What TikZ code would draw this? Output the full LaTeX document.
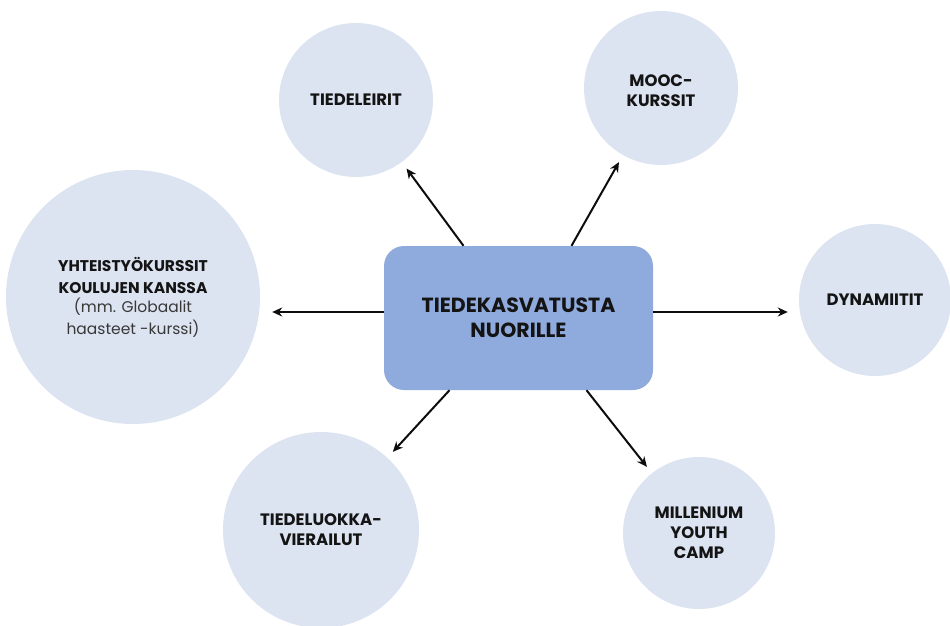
\documentclass[tikz,border=0pt]{standalone}
\usepackage{fontspec}
\setmainfont{Poppins}[BoldFont={* Bold}]
\usetikzlibrary{arrows.meta}
\definecolor{bubble}{HTML}{DCE3F1}
\definecolor{hub}{HTML}{8FAADC}
\begin{document}
\begin{tikzpicture}[x=1pt,y=-1pt,
  bubbletext/.style={font=\fontsize{16.5}{20}\selectfont\bfseries, align=center, text=black!92},
  headtext/.style={font=\fontsize{15.5}{22}\selectfont\bfseries, align=center, text=black!92},
  lighttext/.style={font=\fontsize{15.5}{22}\selectfont, align=center, text=black!78},
  bubble/.style={circle, fill=bubble, inner sep=0pt, minimum size=#1},
  link/.style={draw=black!95, line width=2pt, -{Stealth[length=10pt,width=9pt]}}]
\useasboundingbox (0,0) rectangle (950,626);
% central box
\node[fill=hub, rounded corners=20pt, minimum width=269pt, minimum height=144pt,
  font=\fontsize{20.5}{25}\selectfont\bfseries, align=center, text=black!92] (hub) at (518.5,318)
  {TIEDEKASVATUSTA\\NUORILLE};
% surrounding circles
\node[bubble=154pt] (leirit) at (356,100) {};
\node[bubbletext] at (leirit) {TIEDELEIRIT};
\node[bubble=154pt] (mooc) at (661,88) {};
\node[bubbletext] at ([yshift=-3pt]mooc.center) {MOOC-\\KURSSIT};
\node[bubble=254pt] (yht) at (133,297) {};
\node[headtext, anchor=south, inner sep=1pt] (yhthead) at (133,295) {YHTEISTYÖKURSSIT\\KOULUJEN KANSSA};
\node[lighttext, anchor=north, inner sep=1pt] at ([yshift=-2pt]yhthead.south) {(mm. Globaalit\\haasteet -kurssi)};
\node[bubble=152pt] (dyn) at (875,300) {};
\node[bubbletext] at (dyn) {DYNAMIITIT};
\node[bubble=196pt] (luokka) at (321,530) {};
\node[bubbletext] at (luokka) {TIEDELUOKKA-\\VIERAILUT};
\node[bubble=152pt] (camp) at (699,533) {};
\node[bubbletext] at (camp) {MILLENIUM\\YOUTH\\CAMP};
% connectors
\coordinate (row) at (0,312);
\draw[link, shorten >=8pt] ([xshift=-55pt]hub.north) -- (leirit);
\draw[link, shorten >=8pt] ([xshift=53pt]hub.north) -- (mooc);
\draw[link, shorten >=12pt] (hub.west |- row) -- (yht.east |- row);
\draw[link, shorten >=11pt] (hub.east |- row) -- (dyn.west |- row);
\draw[link, shorten >=8pt] ([xshift=-69pt]hub.south) -- (luokka);
\draw[link, shorten >=8pt] ([xshift=68pt]hub.south) -- (camp);
\end{tikzpicture}
\end{document}
